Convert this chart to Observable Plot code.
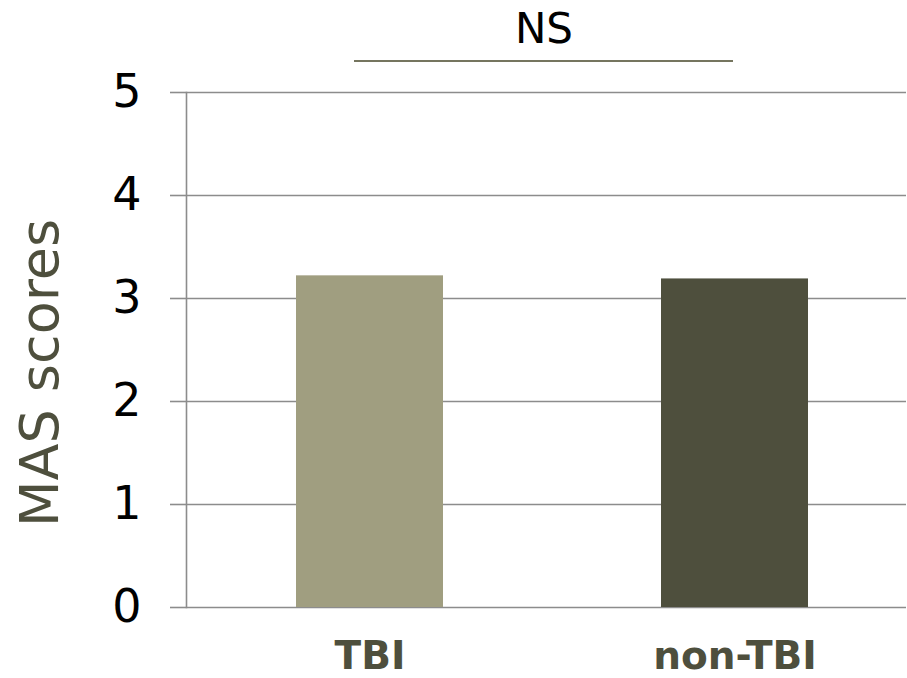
<!DOCTYPE html>
<html>
<head>
<meta charset="utf-8">
<script src="https://cdn.jsdelivr.net/npm/d3@7"></script>
<script src="https://cdn.jsdelivr.net/npm/@observablehq/plot@0.6"></script>
<style>
  html, body { margin: 0; padding: 0; background: #fff; }
  #wrap { position: relative; width: 907px; height: 678px; font-family: "DejaVu Sans", Verdana, sans-serif; }
  #ns { position: absolute; left: 354px; width: 380px; top: 6px; text-align: center; font-size: 42px; line-height: 46px; color: #000; }
  #nsline { position: absolute; left: 354px; width: 379px; top: 60px; height: 0; border-top: 2px solid #75755f; }
  #ylab { position: absolute; left: 40px; top: 373px; transform: translate(-50%, -50%) rotate(-90deg); font-size: 54px; color: #4e4f3d; white-space: nowrap; line-height: 1; }
  #chart svg text.xlab { letter-spacing: 1px; }
</style>
</head>
<body>
<div id="wrap">
  <div id="chart"></div>
  <div id="ns"></div>
  <div id="nsline"></div>
  <div id="ylab"></div>
</div>
<script>
const groups = ["TBI", "non-TBI"];
const scores = [3.22, 3.19];
const barColors = ["#a09e80", "#4e4f3d"];
const yTicks = [0, 1, 2, 3, 4, 5];
const yLabel = "MAS scores";
const sigLabel = "NS";

const data = groups.map((g, i) => ({group: g, score: scores[i], color: barColors[i]}));

const chart = Plot.plot({
  width: 907,
  height: 678,
  marginLeft: 186,
  marginRight: 1,
  marginTop: 92,
  marginBottom: 71,
  style: {fontFamily: "DejaVu Sans, Verdana, sans-serif", background: "#fff"},
  x: {domain: groups, range: [186, 918], paddingInner: 0.597, paddingOuter: 0.301, label: null},
  y: {domain: [0, 5], label: null},
  marks: [
    Plot.gridY(yTicks, {stroke: "#8c8c8c", strokeOpacity: 1, strokeWidth: 1.6}),
    Plot.barY(data, {x: "group", y: "score", fill: "color"}),
    Plot.frame({anchor: "left", stroke: "#8c8c8c", strokeWidth: 1.6}),
    Plot.axisY({ticks: yTicks, tickSize: 16, tickPadding: 29, stroke: "#8c8c8c", strokeWidth: 1.6, fill: "#000", fontSize: 46, label: null, tickFormat: d3.format("d")}),
    Plot.axisX({tickSize: 0, tickPadding: 34, fontSize: 39, fontWeight: "bold", fill: "#4e4f3d", label: null})
  ]
});
document.getElementById("chart").appendChild(chart);
document.getElementById("ns").textContent = sigLabel;
document.getElementById("ylab").textContent = yLabel;
</script>
</body>
</html>
